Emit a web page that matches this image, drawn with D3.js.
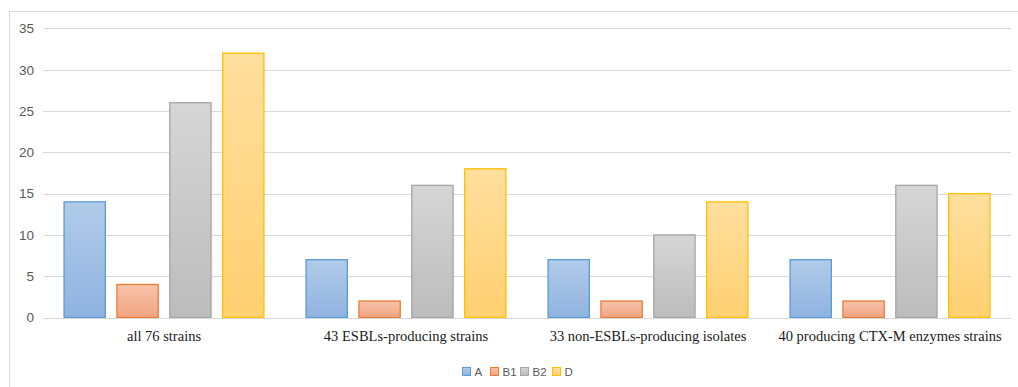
<!DOCTYPE html>
<html>
<head>
<meta charset="utf-8">
<script src="https://cdn.jsdelivr.net/npm/d3@7"></script>
<style>
html,body{margin:0;padding:0;background:#fff;}
svg{display:block;}
</style>
</head>
<body>
<svg id="chart" width="1018" height="387"></svg>
<script>
const categories = ["all 76 strains", "43 ESBLs-producing strains", "33 non-ESBLs-producing isolates", "40 producing CTX-M enzymes strains"];
const seriesNames = ["A", "B1", "B2", "D"];
const valuesA  = [14, 7, 7, 7];
const valuesB1 = [4, 2, 2, 2];
const valuesB2 = [26, 16, 10, 16];
const valuesD  = [32, 18, 14, 15];
const yTicks = [0, 5, 10, 15, 20, 25, 30, 35];

const seriesValues = [valuesA, valuesB1, valuesB2, valuesD];
const styles = [
  {top:"#b1cbe9", bot:"#8fb3e0", stroke:"#5b9bd5"},
  {top:"#f7c3aa", bot:"#f2a482", stroke:"#ed7d31"},
  {top:"#d6d6d6", bot:"#bcbcbc", stroke:"#a5a5a5"},
  {top:"#ffdf9e", bot:"#ffd071", stroke:"#ffc000"}
];

const svg = d3.select("#chart");
const plot = {left:43, right:1011, top:28.4, bottom:317.5};
const sansFont = "'Liberation Sans', Arial, sans-serif";

// border
svg.append("rect").attr("x",9.5).attr("y",11.5).attr("width",1030).attr("height",400)
  .attr("fill","#fff").attr("stroke","#d9d9d9").attr("stroke-width",1);

const defs = svg.append("defs");
styles.forEach((s,i)=>{
  const g = defs.append("linearGradient").attr("id","grad"+i).attr("x1",0).attr("y1",0).attr("x2",0).attr("y2",1);
  g.append("stop").attr("offset","0%").attr("stop-color",s.top);
  g.append("stop").attr("offset","100%").attr("stop-color",s.bot);
});

const y = d3.scaleLinear().domain([0,35]).range([plot.bottom, plot.top]);
const x0 = d3.scaleBand().domain(categories).range([plot.left, plot.right]).paddingInner(0.17).paddingOuter(0.085);
const x1 = d3.scaleBand().domain(seriesNames).range([0, x0.bandwidth()]).paddingInner(0.2).paddingOuter(0);

// gridlines
svg.append("g").selectAll("line").data(yTicks).join("line")
  .attr("x1",plot.left).attr("x2",plot.right)
  .attr("y1",d=>Math.round(y(d))+0.5).attr("y2",d=>Math.round(y(d))+0.5)
  .attr("stroke","#d9d9d9").attr("stroke-width",1);

// y axis labels
const yAxis = d3.axisLeft(y).tickValues(yTicks).tickSize(0).tickPadding(0);
const yg = svg.append("g").attr("transform","translate(34,0)").call(yAxis);
yg.select(".domain").remove();
yg.selectAll("text").attr("font-family",sansFont)
  .attr("font-size","13.5px").attr("fill","#595959");

// bars
const groups = svg.append("g").selectAll("g").data(categories).join("g")
  .attr("transform",d=>`translate(${x0(d)},0)`);
groups.selectAll("rect").data((c,ci)=>seriesNames.map((s,si)=>({s,si,v:seriesValues[si][ci]})))
  .join("rect")
  .attr("x",d=>x1(d.s)+0.5)
  .attr("y",d=>y(d.v))
  .attr("width",x1.bandwidth()-1)
  .attr("height",d=>y(0)-y(d.v))
  .attr("fill",d=>`url(#grad${d.si})`)
  .attr("stroke",d=>styles[d.si].stroke)
  .attr("stroke-width",1.3);

// baseline
svg.append("line").attr("x1",plot.left).attr("x2",plot.right)
  .attr("y1",Math.round(y(0))+0.5).attr("y2",Math.round(y(0))+0.5)
  .attr("stroke","#d9d9d9").attr("stroke-width",1);

// x axis labels
const xAxis = d3.axisBottom(x0).tickSize(0).tickPadding(0);
const xg = svg.append("g").attr("transform",`translate(0,${plot.bottom+13})`).call(xAxis);
xg.select(".domain").remove();
xg.selectAll("text").attr("font-family","'Liberation Serif','Times New Roman',serif")
  .attr("font-size","14.5px").attr("fill","#1a1a1a");

// legend
const legX = [462, 490, 520, 552];
const legend = svg.append("g");
seriesNames.forEach((n,i)=>{
  legend.append("rect").attr("x",legX[i]+0.5).attr("y",367.5).attr("width",8).attr("height",8)
    .attr("fill",`url(#grad${i})`).attr("stroke",styles[i].stroke).attr("stroke-width",1);
  legend.append("text").attr("x",legX[i]+12.5).attr("y",376).text(n)
    .attr("font-family",sansFont).attr("font-size","11.5px").attr("fill","#595959");
});
</script>
</body>
</html>
